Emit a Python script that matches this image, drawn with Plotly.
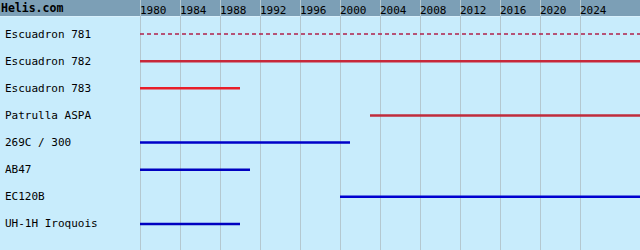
import plotly.graph_objects as go

labels = ["Escuadron 781", "Escuadron 782", "Escuadron 783", "Patrulla ASPA",
          "269C / 300", "AB47", "EC120B", "UH-1H Iroquois"]
start_years = [1980, 1980, 1980, 2003, 1980, 1980, 2000, 1980]
end_years = [2030, 2030, 1990, 2030, 2001, 1991, 2030, 1990]
colors = ["#b0204a", "#c8283a", "#e81e28", "#c02c3c",
          "#0000c8", "#0000c0", "#0000d0", "#0000c0"]
dashes = ["4px,3px", "solid", "solid", "solid", "solid", "solid", "solid", "solid"]
tick_years = list(range(1980, 2028, 4))
title = "Helis.com"

font_family = "DejaVu Sans Mono, Liberation Mono, monospace"

fig = go.Figure()
for i, lab in enumerate(labels):
    fig.add_trace(go.Scatter(
        x=[start_years[i], end_years[i]], y=[i, i], mode="lines",
        line=dict(color=colors[i], width=2.5 if dashes[i] == "solid" else 1.5,
                  dash=dashes[i]),
        hoverinfo="skip", showlegend=False))
    fig.add_annotation(text=lab, x=4 / 640, xref="paper", y=i, yref="y",
                       xanchor="left", yanchor="middle", showarrow=False,
                       borderpad=0,
                       font=dict(family=font_family, size=11, color="#000000"))

fig.add_shape(type="rect", xref="paper", yref="paper", x0=0, x1=1,
              y0=1 - 16 / 250, y1=1, fillcolor="#7c9fb6", line_width=0,
              layer="below")
fig.add_shape(type="line", xref="paper", yref="paper", x0=0, x1=1,
              y0=1 - 16.5 / 250, y1=1 - 16.5 / 250,
              line=dict(color="#d8f0fc", width=1), layer="below")

fig.add_annotation(text="<b>" + title + "</b>", x=0, xref="paper",
                   y=1 - 8 / 250, yref="paper", xanchor="left", yanchor="middle",
                   showarrow=False, borderpad=0,
                   font=dict(family=font_family, size=11.5, color="#000000"))

row_h = 27.14
fig.update_layout(
    width=640, height=250,
    margin=dict(l=0, r=0, t=0, b=0),
    paper_bgcolor="#c8ecfc", plot_bgcolor="#c8ecfc",
    xaxis=dict(range=[1966, 2030], tickvals=tick_years,
               ticktext=[str(t) for t in tick_years],
               side="top", ticklabelposition="inside right",
               showgrid=True, gridcolor="#b4c8d0", gridwidth=1,
               zeroline=False, showline=False, ticks="",
               tickfont=dict(family=font_family, size=11, color="#000000"),
               fixedrange=True),
    yaxis=dict(range=[216 / row_h, -34 / row_h], showgrid=False,
               showticklabels=False, zeroline=False, showline=False,
               fixedrange=True),
)

fig.write_html("out.html")
